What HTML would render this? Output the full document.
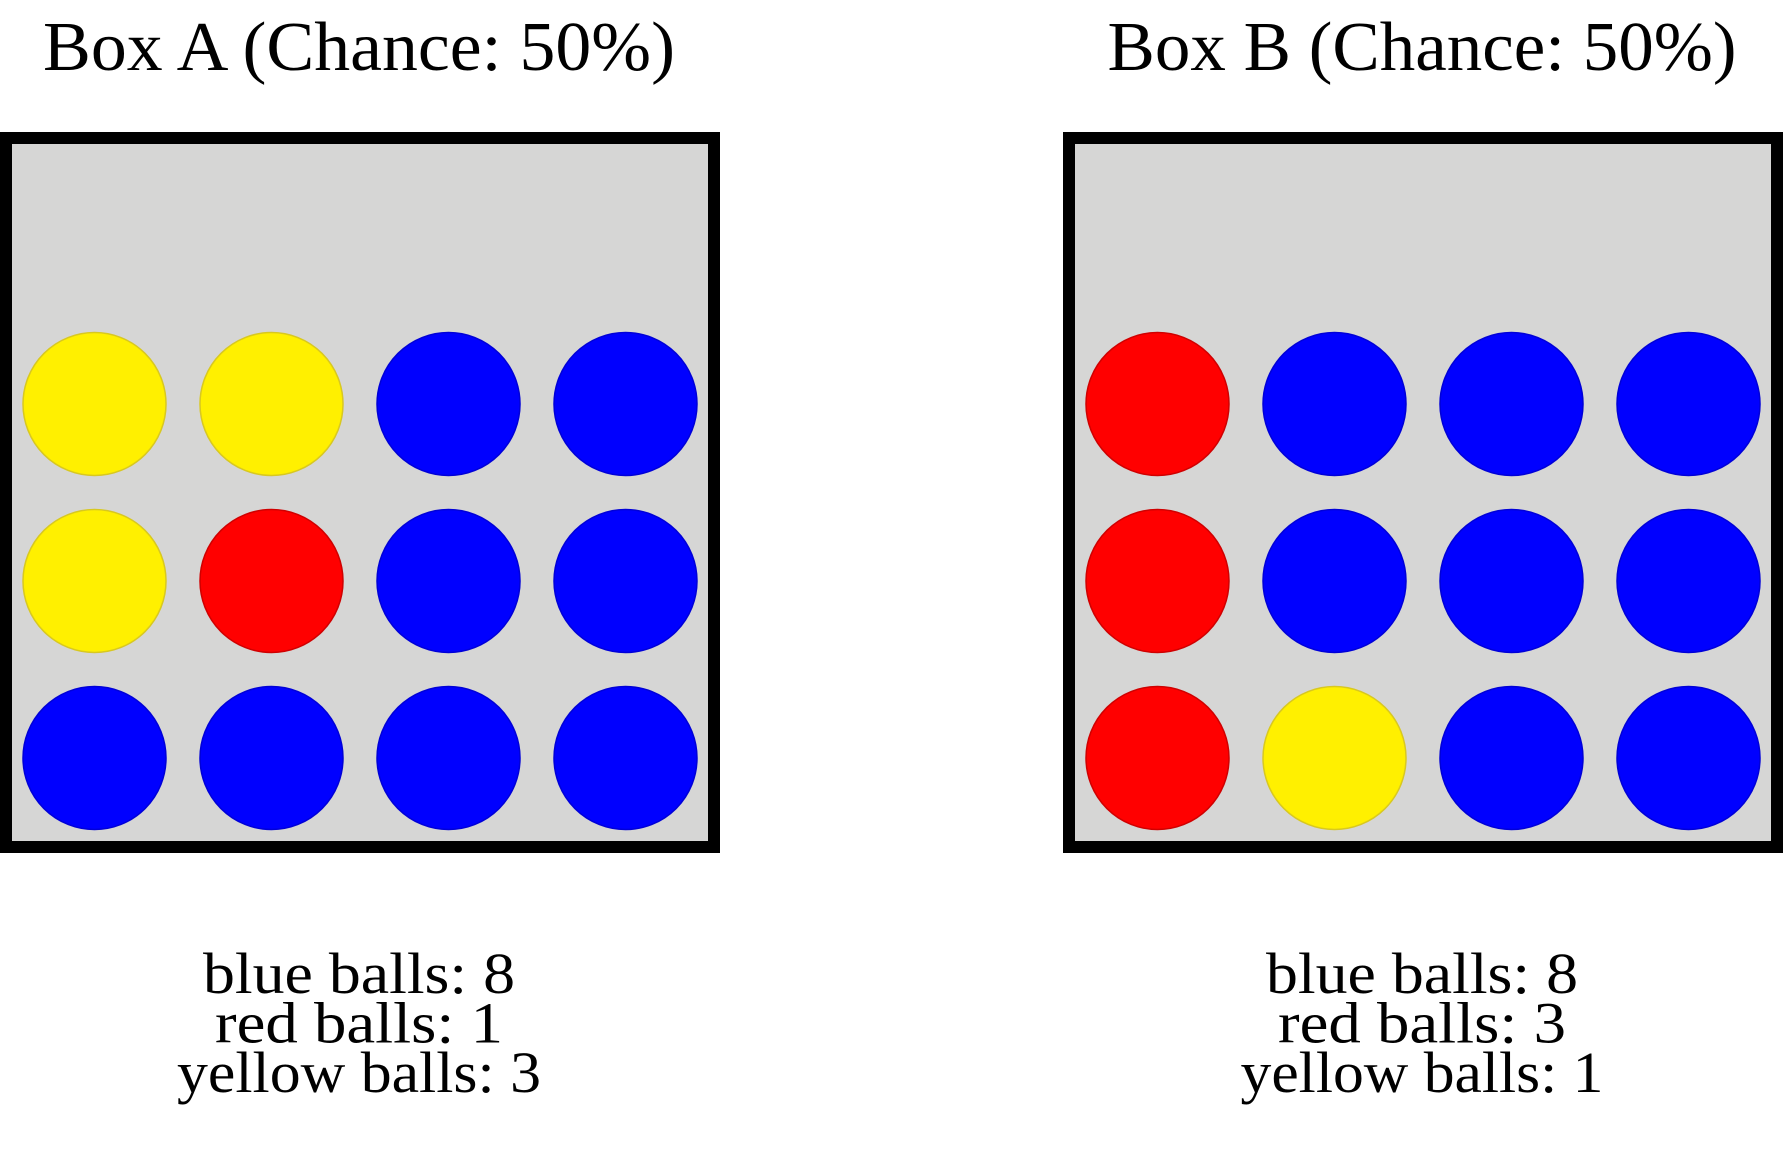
<!DOCTYPE html>
<html><head><meta charset="utf-8"><style>
html,body{margin:0;padding:0;background:#fff;width:1783px;height:1155px;overflow:hidden}
svg{display:block}
text{font-family:"Liberation Serif",serif;fill:#000}
</style></head><body>
<svg id="chart" width="1783" height="1155" viewBox="0 0 1783 1155">
<g id="root"></g>
</svg>
<script>
const boxNames = ["Box A (Chance: 50%)", "Box B (Chance: 50%)"];
const boxA = [["yellow","yellow","blue","blue"],["yellow","red","blue","blue"],["blue","blue","blue","blue"]];
const boxB = [["red","blue","blue","blue"],["red","blue","blue","blue"],["red","yellow","blue","blue"]];
const countsA = [8, 1, 3];
const countsB = [8, 3, 1];
const countLabels = ["blue balls: ", "red balls: ", "yellow balls: "];

const NS = "http://www.w3.org/2000/svg";
const root = document.getElementById('root');
const fills = {yellow:"#fff000", red:"#ff0000", blue:"#0000ff"};
const strokes = {yellow:"#d8c820", red:"#d00000", blue:"#0000d8"};
const boxX = [0, 1063];
const titleW = [632, 629];
const countW = [[312,288,364],[312,288,363]];
function mk(tag, attrs){ const e=document.createElementNS(NS,tag); for(const k in attrs) e.setAttribute(k,attrs[k]); return e; }
const grids=[boxA,boxB], counts=[countsA,countsB];
for(let b=0;b<2;b++){
  const x0=boxX[b], cx=x0+359;
  const g=mk('g',{});
  
  
  root.appendChild(g);
  const t=mk('text',{x:cx,y:70,'text-anchor':'middle','font-size':70,textLength:titleW[b],lengthAdjust:'spacingAndGlyphs'});
  t.textContent=boxNames[b];
  
  
  g.appendChild(t);
  const r=mk('rect',{x:x0+6,y:138,width:708,height:709,fill:'#d6d6d5',stroke:'#000','stroke-width':12});
  
  
  g.appendChild(r);
  const grid=grids[b];
  for(let i=0;i<grid.length;i++) for(let j=0;j<grid[i].length;j++){
    const c=mk('circle',{cx:x0+94.5+j*177,cy:404+i*177,r:71.5,fill:fills[grid[i][j]],stroke:strokes[grid[i][j]],'stroke-width':1.5});
    
    
    g.appendChild(c);
  }
  for(let k=0;k<3;k++){
    const tt=mk('text',{x:cx,y:993+k*49.5,'text-anchor':'middle','font-size':58,textLength:countW[b][k],lengthAdjust:'spacingAndGlyphs'});
    tt.textContent=countLabels[k]+counts[b][k];
    
    
    g.appendChild(tt);
  }
}
</script>
</body></html>
